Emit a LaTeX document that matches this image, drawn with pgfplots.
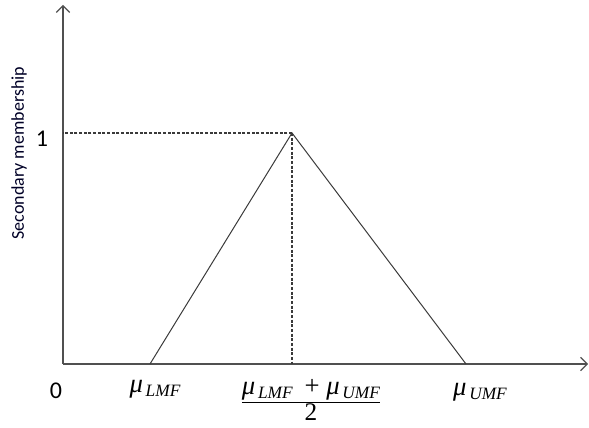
\documentclass[border=0pt]{standalone}
\usepackage{fontspec}
\usepackage{amsmath}
\usepackage{pgfplots}
\pgfplotsset{compat=1.18}
\usetikzlibrary{arrows.meta}
\setmainfont{Carlito}
\newfontfamily\tms{Liberation Serif}
% mu with an italic subscript, set in a Times-like face
\newcommand\mub[1]{{\tms\fontsize{20pt}{20pt}\selectfont\itshape μ\kern2pt\raisebox{-0.35ex}{\fontsize{13pt}{13pt}\selectfont #1}}}

\definecolor{axisgray}{HTML}{505050}
\definecolor{linegray}{HTML}{3A3A3A}

\pgfplotstableread{
x    y
87   0
229  1
403  0
}\triangledata

\begin{document}
\begin{tikzpicture}
\useasboundingbox (-47.25pt,-48pt) rectangle (394.5pt,273pt);
\begin{axis}[
  scale only axis,
  width=393.75pt, height=269.25pt,
  xmin=0, xmax=525,
  ymin=0, ymax=1.554,
  enlargelimits=false,
  axis lines=left,
  axis line style={axisgray, line width=0.9pt, -{Straight Barb[length=5pt,width=10pt,line width=0.8pt]}},
  xtick=\empty, ytick=\empty,
  clip=false,
]
\addplot[linegray, line width=0.75pt] table[x=x,y=y] {\triangledata};
% guides from the peak to both axes
\addplot[linegray, line width=0.9pt, dash pattern=on 2.3pt off 1.2pt] coordinates {(229,1) (0,1)};
\addplot[linegray, line width=0.9pt, dash pattern=on 2.3pt off 1.2pt] coordinates {(229,1) (229,0)};

% axis annotations
\node[font=\fontsize{18pt}{18pt}\selectfont] at (axis cs:-7,-0.117) {0};
\node[font=\fontsize{18pt}{18pt}\selectfont] at (axis cs:-21,0.974) {1};
\node[rotate=90, font=\fontsize{13.5pt}{13.5pt}\selectfont, text=black!85!blue] at (axis cs:-44,0.913) {Secondary membership};

% points on the horizontal axis
\node at (axis cs:92,-0.108) {\mub{LMF}};
\node at (axis cs:248,-0.157) {$\dfrac{\text{\mub{LMF}\hspace{9pt}{\tms\fontsize{20pt}{20pt}\selectfont +}\hspace{5pt}\mub{UMF}}}{\text{\tms\fontsize{19pt}{19pt}\selectfont 2}}$};
\node at (axis cs:417,-0.122) {\mub{UMF}};
\end{axis}
\end{tikzpicture}
\end{document}
